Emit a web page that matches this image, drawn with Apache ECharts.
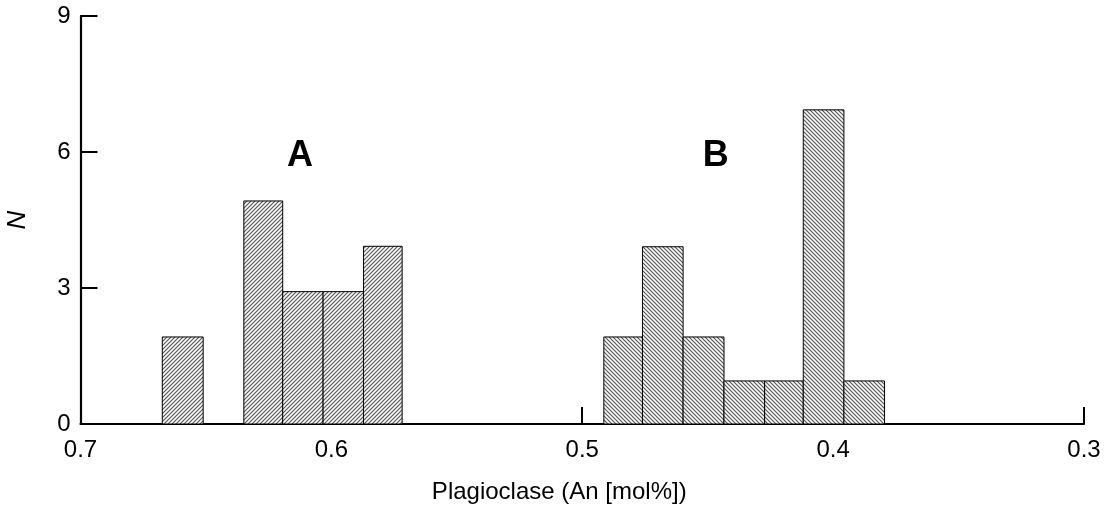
<!DOCTYPE html>
<html>
<head>
<meta charset="utf-8">
<script src="https://cdn.jsdelivr.net/npm/echarts@6/dist/echarts.min.js"></script>
<style>
  html, body { margin: 0; padding: 0; background: #fff; }
  #chart { width: 1105px; height: 518px; }
</style>
</head>
<body>
<div id="chart"></div>
<script>
// Histogram of plagioclase anorthite content, two populations A and B
const groupAStart = [0.6674, 0.6349, 0.6194, 0.6033, 0.5872];
const groupAEnd   = [0.6511, 0.6194, 0.6033, 0.5872, 0.5718];
const groupACount = [1.92, 4.92, 2.92, 2.92, 3.92];

const groupBStart = [0.4914, 0.4760, 0.4598, 0.4435, 0.4273, 0.4119, 0.3957];
const groupBEnd   = [0.4760, 0.4598, 0.4435, 0.4273, 0.4119, 0.3957, 0.3795];
const groupBCount = [1.92, 3.91, 1.92, 0.95, 0.95, 6.93, 0.95];

const yTicks = [0, 3, 6, 9];
const xTickLabels = ['0.7', '0.6', '0.5', '0.4', '0.3'];

const groupLabels = ['A', 'B'];
const groupLabelPos = [[0.6125, 5.9], [0.4468, 5.9]];

// Diagonal hatch tile; dir = 1 for "/" and -1 for "\"
function hatch(dir) {
  const s = 4;
  const c = document.createElement('canvas');
  c.width = s; c.height = s;
  const g = c.getContext('2d');
  g.fillStyle = '#f8f8f8';
  g.fillRect(0, 0, s, s);
  g.strokeStyle = '#555';
  g.lineWidth = 1.1;
  g.beginPath();
  if (dir > 0) {
    g.moveTo(-1, s + 1); g.lineTo(s + 1, -1);
    g.moveTo(-1, 1); g.lineTo(1, -1);
    g.moveTo(s - 1, s + 1); g.lineTo(s + 1, s - 1);
  } else {
    g.moveTo(-1, -1); g.lineTo(s + 1, s + 1);
    g.moveTo(s - 1, -1); g.lineTo(s + 1, 1);
    g.moveTo(-1, s - 1); g.lineTo(1, s + 1);
  }
  g.stroke();
  return c;
}

function zip(a, b, c) { return a.map((v, i) => [v, b[i], c[i]]); }

function renderBin(pattern) {
  return function (params, api) {
    const p0 = api.coord([api.value(0), 0]);
    const p1 = api.coord([api.value(1), api.value(2)]);
    const x = Math.min(p0[0], p1[0]);
    const w = Math.abs(p1[0] - p0[0]);
    return {
      type: 'rect',
      shape: { x: x, y: p1[1], width: w, height: p0[1] - p1[1] },
      style: {
        fill: { image: pattern, repeat: 'repeat' },
        stroke: '#000',
        lineWidth: 1
      }
    };
  };
}

const chart = echarts.init(document.getElementById('chart'));
const font = '"Liberation Sans", Arial, Helvetica, sans-serif';

chart.setOption({
  animation: false,
  backgroundColor: '#fff',
  grid: { left: 80.5, right: 21, top: 16, bottom: 94, containLabel: false, outerBoundsMode: 'none' },
  xAxis: {
    type: 'value',
    inverse: true,
    min: 0.3, max: 0.7, interval: 0.1,
    name: 'Plagioclase (An [mol%])',
    nameLocation: 'middle',
    nameGap: 56,
    nameTextStyle: { fontFamily: font, fontSize: 24, color: '#000', padding: [0, 46, 0, 0] },
    axisLine: { show: true, onZero: false, lineStyle: { color: '#000', width: 2.2 } },
    axisTick: { show: true, inside: true, length: 17, lineStyle: { color: '#000', width: 2 } },
    axisLabel: {
      fontFamily: font, fontSize: 24, color: '#000', margin: 14,
      formatter: v => xTickLabels[Math.round((0.7 - v) * 10)] ?? ''
    },
    splitLine: { show: false }
  },
  yAxis: {
    type: 'value',
    min: yTicks[0], max: yTicks[yTicks.length - 1], interval: 3,
    name: 'N',
    nameLocation: 'middle',
    nameRotate: 90,
    nameGap: 50,
    nameTextStyle: { fontFamily: font, fontSize: 26, fontStyle: 'italic', color: '#000' },
    axisLine: { show: true, lineStyle: { color: '#000', width: 2.2 } },
    axisTick: { show: true, inside: true, length: 17, lineStyle: { color: '#000', width: 2 } },
    axisLabel: { fontFamily: font, fontSize: 24, color: '#000', margin: 10 },
    splitLine: { show: false }
  },
  series: [
    {
      type: 'custom',
      renderItem: renderBin(hatch(1)),
      encode: { x: [0, 1], y: 2 },
      data: zip(groupAStart, groupAEnd, groupACount)
    },
    {
      type: 'custom',
      renderItem: renderBin(hatch(-1)),
      encode: { x: [0, 1], y: 2 },
      data: zip(groupBStart, groupBEnd, groupBCount)
    }
  ]
});

// Population labels placed in data coordinates
chart.setOption({
  graphic: groupLabels.map((t, i) => {
    const p = chart.convertToPixel({ gridIndex: 0 }, groupLabelPos[i]);
    return {
      type: 'text',
      x: p[0], y: p[1],
      style: {
        text: t, fontFamily: font, fontSize: 36, fontWeight: 'bold',
        fill: '#000', align: 'center', verticalAlign: 'middle'
      }
    };
  })
});
</script>
</body>
</html>
